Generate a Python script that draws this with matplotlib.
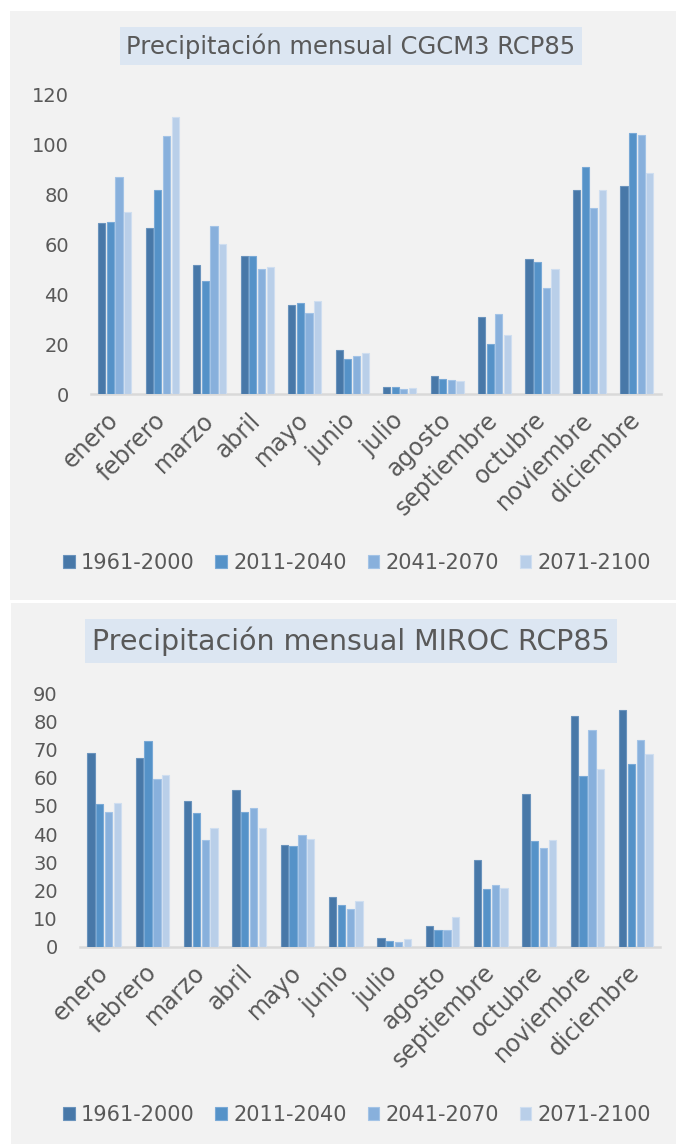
import matplotlib
matplotlib.use("Agg")
import matplotlib.pyplot as plt
import numpy as np
from matplotlib.patches import Rectangle

months = ["enero", "febrero", "marzo", "abril", "mayo", "junio", "julio",
          "agosto", "septiembre", "octubre", "noviembre", "diciembre"]
periods = ["1961-2000", "2011-2040", "2041-2070", "2071-2100"]

# CGCM3 RCP85
cgcm3_1961_2000 = [68.5, 66.5, 51.7, 55.5, 35.8, 17.7, 3.1, 7.3, 30.9, 54.1, 81.7, 83.5]
cgcm3_2011_2040 = [69.0, 81.7, 45.3, 55.5, 36.4, 14.0, 3.1, 6.1, 20.1, 52.9, 90.9, 104.4]
cgcm3_2041_2070 = [86.8, 103.2, 67.3, 50.1, 32.5, 15.5, 2.3, 5.7, 32.0, 42.4, 74.5, 103.7]
cgcm3_2071_2100 = [72.8, 110.8, 60.3, 50.8, 37.5, 16.7, 2.7, 5.5, 23.7, 50.1, 81.6, 88.5]

# MIROC RCP85
miroc_1961_2000 = [68.8, 66.9, 51.9, 55.8, 36.0, 17.6, 3.2, 7.2, 30.9, 54.4, 82.1, 84.0]
miroc_2011_2040 = [50.6, 73.1, 47.5, 47.8, 35.6, 14.7, 2.1, 5.9, 20.4, 37.5, 60.5, 64.9]
miroc_2041_2070 = [47.7, 59.6, 38.0, 49.3, 39.7, 13.5, 1.7, 5.9, 21.9, 35.2, 76.9, 73.3]
miroc_2071_2100 = [51.2, 60.9, 42.3, 42.3, 38.1, 16.2, 2.6, 10.5, 20.7, 37.8, 63.1, 68.3]

colors = ["#4878a8", "#5592c8", "#88b0dc", "#b9cfe9"]
edges = ["#6a93bc", "#79a9d6", "#a3c3e6", "#cfdef0"]
txt = "#595959"
FONT = "DejaVu Sans"
plt.rcParams["font.family"] = FONT

W, H = 676, 1144
fig = plt.figure(figsize=(W / 100, H / 100), dpi=100)
fig.patch.set_facecolor("white")

def px_rect(x0, y0, x1, y1, **kw):
    fig.patches.append(Rectangle((x0 / W, 1 - y1 / H), (x1 - x0) / W, (y1 - y0) / H,
                                 transform=fig.transFigure, zorder=-10, **kw))

px_rect(10, 11, 676, 600, facecolor="#f2f2f2", edgecolor="none")
px_rect(11, 603, 676, 1144, facecolor="#f2f2f2", edgecolor="none")

def draw(ax_px, ymax, ystep, series, title, title_y, title_size, legend_y):
    x0, x1, ybot, ytop = ax_px
    ax = fig.add_axes([x0 / W, 1 - ybot / H, (x1 - x0) / W, (ybot - ytop) / H])
    ax.set_facecolor("none")
    x = np.arange(len(months))
    step = 0.182
    handles = []
    for i, (vals, c, e) in enumerate(zip(series, colors, edges)):
        h = ax.bar(x + (i - 1.5) * step, vals, width=0.15, color=c, edgecolor=e,
                   linewidth=0.8, label=periods[i], zorder=3)
        handles.append(h)
    ax.set_xlim(-0.5, len(months) - 0.5)
    ax.set_ylim(0, ymax)
    ax.set_yticks(np.arange(0, ymax + 1, ystep))
    for s in ["top", "right", "left"]:
        ax.spines[s].set_visible(False)
    ax.spines["bottom"].set_color("#d9d9d9")
    ax.spines["bottom"].set_linewidth(1.8)
    ax.tick_params(axis="both", length=0, colors=txt)
    ax.tick_params(axis="y", labelsize=14, pad=16)
    ax.set_xticks(x)
    ax.set_xticklabels(months, rotation=45, ha="right", va="center",
                       rotation_mode="anchor", fontsize=17, color=txt)
    ax.tick_params(axis="x", pad=16)
    fig.text(351 / W, 1 - title_y / H, title, ha="center", va="center",
             fontsize=title_size, color=txt,
             bbox=dict(boxstyle="square,pad=0.25", facecolor="#dce6f2", edgecolor="none"))
    fig.legend(handles=handles, labels=periods, loc="center",
               bbox_to_anchor=(357 / W, 1 - legend_y / H), ncol=4, frameon=False,
               fontsize=15, labelcolor=txt, handlelength=0.55, handleheight=0.55,
               handletextpad=0.3, columnspacing=1.0)
    return ax

draw((91, 660.7, 394.3, 94.3), 120, 20,
     [cgcm3_1961_2000, cgcm3_2011_2040, cgcm3_2041_2070, cgcm3_2071_2100],
     "Precipitación mensual CGCM3 RCP85", 46, 17.5, 563)
draw((80, 660, 946.7, 693.3), 90, 10,
     [miroc_1961_2000, miroc_2011_2040, miroc_2041_2070, miroc_2071_2100],
     "Precipitación mensual MIROC RCP85", 641, 20.5, 1115)

fig.savefig("out.png", dpi=100, facecolor="white")
